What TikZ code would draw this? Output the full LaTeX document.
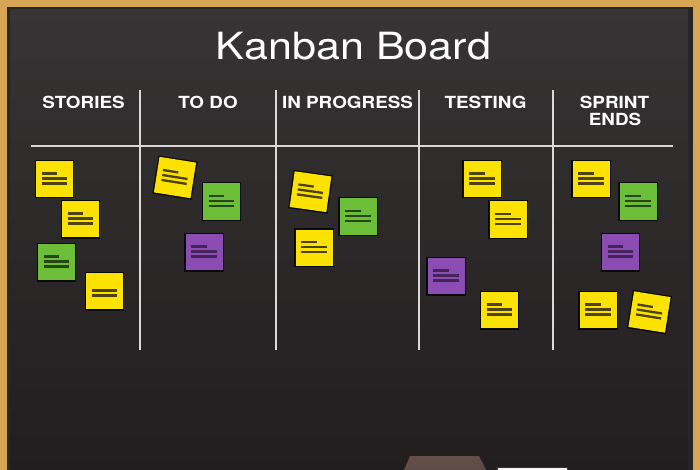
\documentclass[tikz,border=0pt]{standalone}
\usepackage{fontspec}
\usepackage{graphicx}
\setmainfont{TeX Gyre Heros}
\definecolor{framegold}{HTML}{D7A553}
\definecolor{boardtop}{HTML}{363434}
\definecolor{boardbot}{HTML}{221D1E}
\definecolor{chalkline}{HTML}{D9D9D9}
\definecolor{yel}{HTML}{FBE200}
\definecolor{yelline}{HTML}{4E4210}
\definecolor{grn}{HTML}{6CBE38}
\definecolor{grnline}{HTML}{264617}
\definecolor{pur}{HTML}{8B4DB3}
\definecolor{purline}{HTML}{452558}
\definecolor{eraser}{HTML}{735E59}
\newcommand{\stickynote}[5]{%
  \begin{scope}[shift={(#1,#2)},rotate=#3]
    \fill[black,opacity=.75] (-19.8,-19.2) rectangle (19.9,19.5);
    \fill[fill=#4] (-18.5,-18) rectangle (18.5,18);
    \ifnum#5=3 \draw[notestroke,draw=#4line] (-13,-5.5) -- (2.5,-5.5);\fi
    \draw[notestroke,draw=#4line] (-13,-0.5) -- (12.5,-0.5);
    \draw[notestroke,draw=#4line] (-13,4.5) -- (12.5,4.5);
  \end{scope}}
\begin{document}
\begin{tikzpicture}[x=1pt,y=-1pt,
  notestroke/.style={line width=2.3pt},
  chalk/.style={draw=chalkline,line width=1.8pt},
  header/.style={text=white,font=\bfseries\fontsize{16.7}{18}\selectfont,anchor=base,inner sep=0pt},
  titletext/.style={text=white,font=\fontsize{37.5}{40}\selectfont,anchor=base,inner sep=0pt}]
\useasboundingbox (0,0) rectangle (700,470);
% frame
\fill[framegold] (0,0) rectangle (700,470);
\fill[black!85] (7,7) rectangle (692.5,470);
\shade[top color=boardtop,bottom color=boardbot] (10,10) rectangle (688,470);
% eraser and chalk
\shade[top color=eraser!110,bottom color=eraser!80!black] (410,456) -- (479,456) -- (486,470) -- (404,470) -- cycle;
\fill[black!80] (496,466.5) rectangle (568,470);
\fill[white!92!gray] (497.5,468) rectangle (566.5,470);
% title
\node[titletext] (title) at (353.5,60) {\scalebox{1.15}[1]{Kanban Board}};
% headers
\node[header] (hstories) at (83.5,109) {\scalebox{1.13}[1]{STORIES}};
\node[header] (htodo) at (208,109) {\scalebox{1.13}[1]{TO DO}};
\node[header] (hprog) at (347.5,109) {\scalebox{1.13}[1]{IN PROGRESS}};
\node[header] (htest) at (485.5,109) {\scalebox{1.13}[1]{TESTING}};
\node[header] (hsprint) at (614.5,109) {\scalebox{1.13}[1]{SPRINT}};
\node[header] (hends) at (615,126) {\scalebox{1.13}[1]{ENDS}};
% grid lines
\coordinate (hl) at (31,146);
\coordinate (hr) at (673,146);
\draw[chalk] (hl) -- (hr);
\foreach \xx/\nm in {140/a,276/b,419/c,553/d}{
  \coordinate (\nm top) at (\xx,90);
  \coordinate (\nm bot) at (\xx,350);
  \draw[chalk] (\nm top) -- (\nm bot);
}
% sticky notes: stories
\stickynote{54.5}{179}{0}{yel}{3}
\stickynote{80.5}{219}{0}{yel}{3}
\stickynote{56.5}{262}{0}{grn}{3}
\stickynote{104.5}{291}{0}{yel}{2}
% to do
\stickynote{175}{177.5}{-9}{yel}{3}
\stickynote{221.5}{201.5}{0}{grn}{3}
\stickynote{204}{252}{0}{pur}{3}
% in progress
\stickynote{310.5}{191.7}{-8}{yel}{3}
\stickynote{358}{216.5}{0}{grn}{3}
\stickynote{314}{247.5}{0}{yel}{3}
% testing
\stickynote{482}{179}{0}{yel}{3}
\stickynote{508}{219.5}{0}{yel}{3}
\stickynote{446}{276}{0}{pur}{3}
\stickynote{499.5}{310}{0}{yel}{3}
% sprint ends
\stickynote{591}{179}{0}{yel}{3}
\stickynote{638}{201.5}{0}{grn}{3}
\stickynote{620.5}{252}{0}{pur}{3}
\stickynote{598}{310}{0}{yel}{3}
\stickynote{649.5}{312}{-9}{yel}{3}
\end{tikzpicture}
\end{document}
